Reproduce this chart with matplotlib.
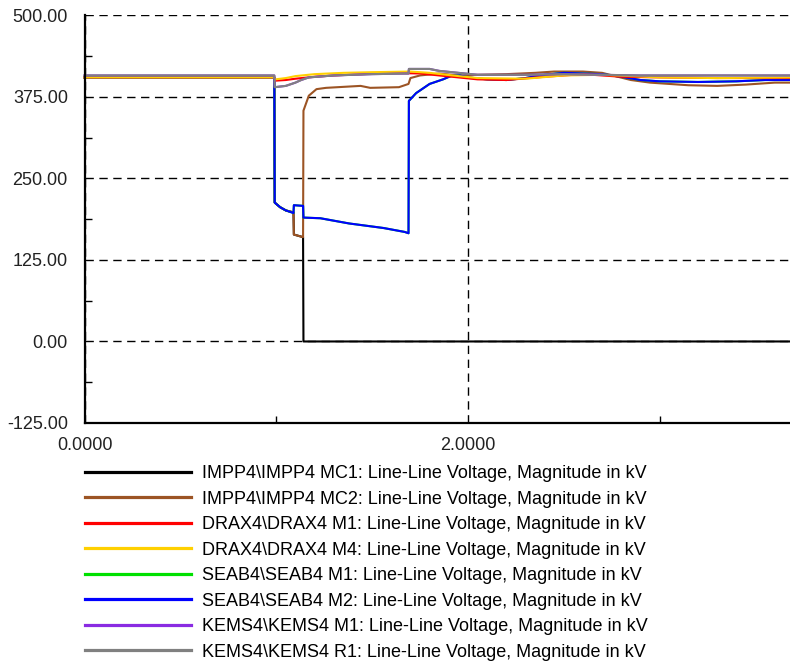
import matplotlib
matplotlib.use("Agg")
import matplotlib.pyplot as plt
from matplotlib.lines import Line2D
from matplotlib.ticker import FormatStrFormatter, MultipleLocator

plt.rcParams['font.family'] = ['Liberation Sans', 'DejaVu Sans']

# --- data (time in s, voltage in kV) ---
black_t = [0, 0.99, 0.992, 1.02, 1.05, 1.09, 1.092, 1.14, 1.142, 3.68]
black_v = [405, 405, 213, 206, 201, 198, 164, 160, 0, 0]

brown_t = [0, 0.99, 0.992, 1.02, 1.05, 1.09, 1.092, 1.14, 1.142, 1.17, 1.21, 1.26,
           1.38, 1.44, 1.49, 1.64, 1.69, 1.70, 1.75, 1.85, 1.95, 2.05, 2.2, 2.35,
           2.45, 2.6, 2.7, 2.85, 2.95, 3.15, 3.3, 3.45, 3.6, 3.68]
brown_v = [405, 405, 213, 206, 201, 198, 164, 160, 354, 377, 387, 389,
           391, 392, 389, 390, 395, 404, 408, 411, 408, 409, 410, 412,
           414, 414, 412, 401, 397, 393, 392, 394, 397, 397]

red_t = [0, 0.99, 0.995, 1.05, 1.1, 1.2, 1.3, 1.45, 1.6, 1.75, 1.85, 1.95,
         2.05, 2.2, 2.4, 2.6, 2.8, 3.0, 3.3, 3.68]
red_v = [405, 405, 400, 401, 403, 406, 408, 410, 412, 411, 408, 405,
         402, 401, 406, 410, 406, 405, 404, 404]

yellow_t = [0, 0.99, 0.995, 1.05, 1.1, 1.2, 1.35, 1.5, 1.7, 1.8, 1.95, 2.05,
            2.3, 2.5, 2.7, 3.0, 3.3, 3.68]
yellow_v = [405, 405, 402, 404, 407, 410, 412, 413, 414, 412, 407, 404,
            403, 408, 409, 405, 404, 405]

blue_t = [0, 0.99, 0.992, 1.02, 1.05, 1.09, 1.092, 1.14, 1.142, 1.23, 1.38,
          1.56, 1.67, 1.69, 1.692, 1.73, 1.80, 1.87, 1.91, 1.96, 2.0, 2.1,
          2.2, 2.3, 2.4, 2.5, 2.6, 2.7, 2.8, 2.9, 3.0, 3.2, 3.4, 3.55, 3.68]
blue_v = [405, 405, 213, 206, 201, 197, 209, 208, 190, 189, 181,
          174, 168, 166, 369, 381, 395, 402, 407, 408, 405, 402,
          401, 404, 409, 412, 411, 410, 406, 401, 399, 398, 399, 401, 401]

# green sits under blue, purple under grey
green_t = list(blue_t)
green_v = list(blue_v)

grey_t = [0, 0.99, 0.992, 1.05, 1.07, 1.1, 1.13, 1.17, 1.3, 1.5, 1.69, 1.692,
          1.8, 1.85, 1.95, 2.05, 2.3, 2.5, 2.9, 3.3, 3.68]
grey_v = [408, 408, 390, 392, 394, 397, 401, 405, 408, 410, 411, 418,
          418, 415, 412, 409, 409, 410, 408, 408, 408]

purple_t = list(grey_t)
purple_v = list(grey_v)

labels = [
    "IMPP4\\IMPP4 MC1: Line-Line Voltage, Magnitude in kV",
    "IMPP4\\IMPP4 MC2: Line-Line Voltage, Magnitude in kV",
    "DRAX4\\DRAX4 M1: Line-Line Voltage, Magnitude in kV",
    "DRAX4\\DRAX4 M4: Line-Line Voltage, Magnitude in kV",
    "SEAB4\\SEAB4 M1: Line-Line Voltage, Magnitude in kV",
    "SEAB4\\SEAB4 M2: Line-Line Voltage, Magnitude in kV",
    "KEMS4\\KEMS4 M1: Line-Line Voltage, Magnitude in kV",
    "KEMS4\\KEMS4 R1: Line-Line Voltage, Magnitude in kV",
]
colors = ['#000000', '#9C5424', '#FF0000', '#FFD000',
          '#00E000', '#0000FF', '#8A2BE2', '#808080']

series = [(black_t, black_v), (brown_t, brown_v), (red_t, red_v),
          (yellow_t, yellow_v), (green_t, green_v), (blue_t, blue_v),
          (purple_t, purple_v), (grey_t, grey_v)]
zorders = [3, 4, 6, 7, 5, 5.5, 8, 9]

fig = plt.figure(figsize=(7.9, 6.64), dpi=100)
ax = fig.add_axes([0.107, 0.363, 0.893, 0.6137])

for (t, v), c, z in zip(series, colors, zorders):
    ax.plot(t, v, color=c, lw=1.5, zorder=z, clip_on=False)

ax.set_xlim(0, 3.68)
ax.set_ylim(-125, 500)
ax.xaxis.set_major_locator(MultipleLocator(2.0))
ax.xaxis.set_minor_locator(MultipleLocator(1.0))
ax.yaxis.set_major_locator(MultipleLocator(125))
ax.yaxis.set_minor_locator(MultipleLocator(62.5))
ax.xaxis.set_major_formatter(FormatStrFormatter('%.4f'))
ax.yaxis.set_major_formatter(FormatStrFormatter('%.2f'))

ax.tick_params(which='major', length=0, labelsize=13, colors='#222222')
ax.tick_params(axis='y', which='major', pad=12)
ax.tick_params(axis='x', which='major', pad=10)
ax.tick_params(which='minor', direction='in', length=5, width=1, color='black')

ax.grid(True, which='major', color='black', lw=1, linestyle=(0, (6, 4)))
for s in ['top', 'right']:
    ax.spines[s].set_visible(False)
for s in ['left', 'bottom']:
    ax.spines[s].set_linewidth(1.6)
    ax.spines[s].set_zorder(10)

handles = [Line2D([], [], color=c, lw=2.3) for c in colors]
fig.legend(handles, labels, loc='upper left', bbox_to_anchor=(0.107, 0.2995),
           frameon=False, fontsize=13, handlelength=5.9, handletextpad=0.6,
           labelspacing=0.47, borderpad=0, borderaxespad=0)

fig.savefig('out.png', dpi=100)
